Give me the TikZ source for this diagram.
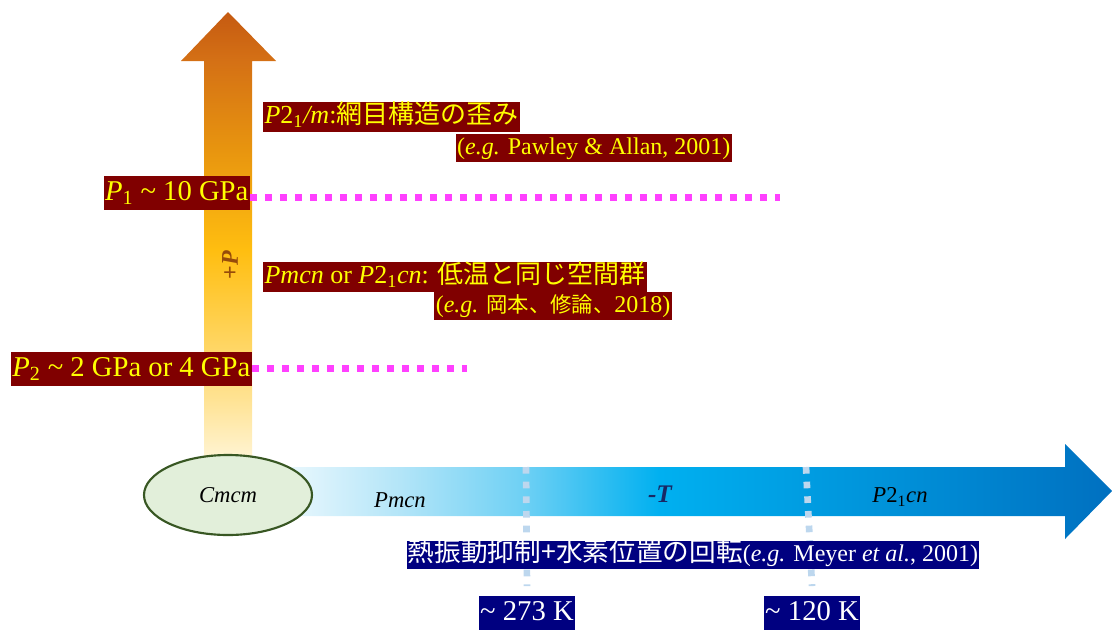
\documentclass[tikz,border=0pt]{standalone}
\usepackage{fontspec}
\setmainfont{Liberation Serif}
\newfontfamily\jpfont{Noto Sans CJK JP}
\usetikzlibrary{positioning, shapes.geometric, backgrounds, calc}
\usepackage{xcolor}
\definecolor{labred}{RGB}{128,0,0}
\definecolor{labyellow}{RGB}{255,255,0}
\definecolor{labnavy}{RGB}{0,0,128}
\definecolor{dotpink}{RGB}{255,64,255}
\definecolor{dotblue}{RGB}{189,215,238}
\definecolor{cmcmfill}{RGB}{226,239,218}
\definecolor{cmcmline}{RGB}{56,87,35}
\definecolor{plabel}{RGB}{150,75,10}
\definecolor{tlabel}{RGB}{25,40,100}
% pressure arrow colours (bottom to top)
\definecolor{pA}{RGB}{255,250,235}
\definecolor{pB}{RGB}{255,242,204}
\definecolor{pC}{RGB}{255,226,145}
\definecolor{pD}{RGB}{255,210,85}
\definecolor{pE}{RGB}{255,190,16}
\definecolor{pF}{RGB}{232,149,15}
\definecolor{pG}{RGB}{212,112,21}
\definecolor{pH}{RGB}{197,90,17}
% temperature arrow colours (left to right)
\definecolor{tA}{RGB}{232,247,253}
\definecolor{tB}{RGB}{179,229,248}
\definecolor{tC}{RGB}{109,208,244}
\definecolor{tD}{RGB}{0,176,240}
\definecolor{tE}{RGB}{0,144,216}
\definecolor{tF}{RGB}{0,112,192}
\pgfdeclareverticalshading{pshade}{100bp}{color(0bp)=(pA); color(25bp)=(pA);
  color(27bp)=(pB); color(33bp)=(pC); color(40.3bp)=(pD); color(49bp)=(pE);
  color(59.9bp)=(pF); color(69.8bp)=(pG); color(75bp)=(pH); color(100bp)=(pH)}
\pgfdeclarehorizontalshading{tshade}{100bp}{color(0bp)=(tA); color(25bp)=(tA);
  color(31.7bp)=(tB); color(39.3bp)=(tC); color(47.5bp)=(tD); color(62.1bp)=(tE);
  color(75bp)=(tF); color(100bp)=(tF)}
\tikzset{
  rbox/.style  = {fill=labred, text=labyellow, inner xsep=1pt, inner ysep=2pt},
  nbox/.style  = {fill=labnavy, text=white, inner xsep=1pt, inner ysep=2pt},
  bigf/.style  = {font=\fontsize{21.5}{24}\selectfont, text height=16pt, text depth=5pt},
  midf/.style  = {font=\fontsize{19.5}{22}\selectfont, text height=14.5pt, text depth=4.5pt},
  smlf/.style  = {font=\fontsize{18}{21}\selectfont, text height=13.5pt, text depth=4pt},
  cmcm/.style  = {ellipse, draw=cmcmline, line width=1.6pt, fill=cmcmfill,
                  minimum width=126pt, minimum height=60pt,
                  font=\fontsize{17}{20}\selectfont\itshape},
  pdots/.style = {dotpink, line width=5.25pt, dash pattern=on 5.25pt off 6pt},
  tdots/.style = {dotblue, line width=5pt, dash pattern=on 5pt off 6pt},
}

\begin{document}
\begin{tikzpicture}[x=0.75pt, y=-0.75pt]
  \useasboundingbox (0,0) rectangle (1112,632);

  % phase at ambient conditions
  \node[cmcm] (cmcm) at (228,495) {Cmcm};

  % pressure side
  \node[rbox, bigf, anchor=east] (p1) at (250,193)
    {\textit{P}\textsubscript{1} \textasciitilde\ 10 GPa};
  \node[rbox, bigf, anchor=east] (p2) at (252,369)
    {\textit{P}\textsubscript{2} \textasciitilde\ 2 GPa or 4 GPa};
  \node[rbox, midf, anchor=west] (hip) at (263,117)
    {\textit{P}2\textsubscript{1}\textit{/m}:{\jpfont 網目構造の歪み}};
  \node[rbox, smlf, anchor=east] (hipref) at (732,148)
    {(\textit{e.g.} Pawley \& Allan, 2001)};
  \node[rbox, midf, anchor=west] (mip) at (263,277)
    {\textit{Pmcn} or \textit{P}2\textsubscript{1}\textit{cn}: {\jpfont 低温と同じ空間群}};
  \node[rbox, smlf, anchor=east] (mipref) at (672,306)
    {(\textit{e.g.} {\jpfont\fontsize{16}{18}\selectfont 岡本、修論、}2018)};
  \node[rotate=90, text=plabel, font=\fontsize{18}{20}\selectfont\bfseries]
    (pup) at (230,265) {+\textit{P}};

  % temperature side
  \node[font=\fontsize{17}{20}\selectfont\itshape] (pmcn) at (400,500) {Pmcn};
  \node[font=\fontsize{17}{20}\selectfont] (p21cn) at (900,497)
    {\textit{P}2\textsubscript{1}\textit{cn}};
  \node[text=tlabel, font=\fontsize{19}{22}\selectfont\bfseries\itshape]
    (tdown) at (660,494) {-T};
  \node[nbox, smlf] (rot) at (693,555)
    {{\jpfont\fontsize{20}{22}\selectfont 熱振動抑制+水素位置の回転}(\textit{e.g.} Meyer \textit{et al.}, 2001)};
  \node[nbox, bigf] (t273) at (527,613) {\textasciitilde\ 273 K};
  \node[nbox, bigf] (t120) at (812,613) {\textasciitilde\ 120 K};

  \coordinate (p1end) at (780,197);
  \coordinate (p2end) at (467,368);
  \coordinate (t273top) at (526,467);
  \coordinate (t120top) at (806,467);

  \begin{scope}[on background layer]
    \shade[shading=pshade] (204,470) -- (204,61) -- (181,61) -- (228,12)
      -- (276,61) -- (252,61) -- (252,470) -- cycle;
    \shade[shading=tshade] (290,467) -- (1065,467) -- (1065,444) -- (1112,491)
      -- (1065,539) -- (1065,516) -- (290,516) -- cycle;
    \draw[tdots] (t273top) -- ($(t273.north)+(0,-10)$);
    \draw[tdots] (t120top) -- ($(t120.north)+(0,-10)$);
  \end{scope}

  \draw[pdots] (p1.east |- p1end) -- (p1end);
  \draw[pdots] (p2.east |- p2end) -- (p2end);
\end{tikzpicture}
\end{document}
